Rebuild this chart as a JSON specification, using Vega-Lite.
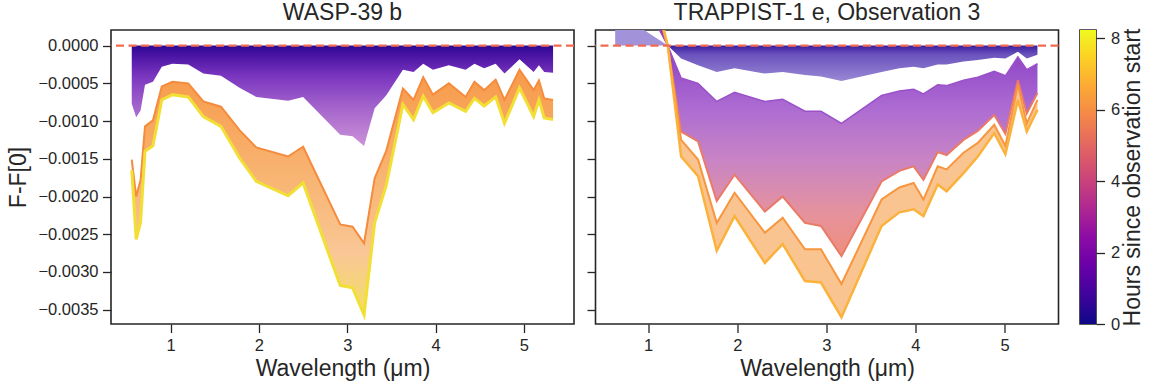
{
  "$schema": "https://vega.github.io/schema/vega-lite/v6.json",
  "background": "white",
  "padding": {"left": 7, "top": 1, "right": 5, "bottom": 5},
  "bounds": "flush",
  "spacing": 21.5,
  "config": {
    "font": "Liberation Sans",
    "view": {"stroke": "#262626", "strokeWidth": 1.6},
    "axis": {"labelFont": "Liberation Sans", "labelFontSize": 16.5, "labelColor": "#262626", "titleFont": "Liberation Sans", "titleFontSize": 23, "titleFontWeight": "normal", "titleColor": "#262626", "tickColor": "#262626", "tickSize": 8.5, "tickWidth": 1.3, "domain": false, "grid": false, "labelPadding": 4.5},
    "title": {"font": "Liberation Sans", "fontSize": 23, "fontWeight": "normal", "color": "#262626", "offset": 5}
  },
  "datasets": {
    "wasp": [
      {"lam": 0.56, "w1": -0.00077, "w2": -0.00151, "w3": -0.00165},
      {"lam": 0.61, "w1": -0.00095, "w2": -0.00200, "w3": -0.00257},
      {"lam": 0.66, "w1": -0.00086, "w2": -0.00178, "w3": -0.00234},
      {"lam": 0.71, "w1": -0.00052, "w2": -0.00107, "w3": -0.00140},
      {"lam": 0.80, "w1": -0.00048, "w2": -0.00099, "w3": -0.00133},
      {"lam": 0.90, "w1": -0.00028, "w2": -0.00054, "w3": -0.00072},
      {"lam": 1.02, "w1": -0.00024, "w2": -0.00048, "w3": -0.00065},
      {"lam": 1.20, "w1": -0.00025, "w2": -0.00050, "w3": -0.00068},
      {"lam": 1.37, "w1": -0.00037, "w2": -0.00074, "w3": -0.00094},
      {"lam": 1.57, "w1": -0.00040, "w2": -0.00081, "w3": -0.00107},
      {"lam": 1.78, "w1": -0.00056, "w2": -0.00112, "w3": -0.00149},
      {"lam": 1.97, "w1": -0.00068, "w2": -0.00135, "w3": -0.00180},
      {"lam": 2.33, "w1": -0.00073, "w2": -0.00147, "w3": -0.00199},
      {"lam": 2.50, "w1": -0.00068, "w2": -0.00134, "w3": -0.00182},
      {"lam": 2.92, "w1": -0.00118, "w2": -0.00237, "w3": -0.00318},
      {"lam": 3.06, "w1": -0.00120, "w2": -0.00240, "w3": -0.00321},
      {"lam": 3.19, "w1": -0.00133, "w2": -0.00262, "w3": -0.00357},
      {"lam": 3.31, "w1": -0.00083, "w2": -0.00176, "w3": -0.00235},
      {"lam": 3.44, "w1": -0.00066, "w2": -0.00140, "w3": -0.00186},
      {"lam": 3.63, "w1": -0.00032, "w2": -0.00057, "w3": -0.00078},
      {"lam": 3.75, "w1": -0.00035, "w2": -0.00072, "w3": -0.00098},
      {"lam": 3.86, "w1": -0.00024, "w2": -0.00042, "w3": -0.00067},
      {"lam": 3.97, "w1": -0.00032, "w2": -0.00065, "w3": -0.00089},
      {"lam": 4.15, "w1": -0.00026, "w2": -0.00050, "w3": -0.00076},
      {"lam": 4.34, "w1": -0.00032, "w2": -0.00068, "w3": -0.00087},
      {"lam": 4.44, "w1": -0.00024, "w2": -0.00048, "w3": -0.00070},
      {"lam": 4.55, "w1": -0.00030, "w2": -0.00059, "w3": -0.00080},
      {"lam": 4.68, "w1": -0.00024, "w2": -0.00045, "w3": -0.00068},
      {"lam": 4.78, "w1": -0.00037, "w2": -0.00072, "w3": -0.00103},
      {"lam": 4.95, "w1": -0.00018, "w2": -0.00032, "w3": -0.00056},
      {"lam": 5.11, "w1": -0.00035, "w2": -0.00059, "w3": -0.00094},
      {"lam": 5.17, "w1": -0.00026, "w2": -0.00046, "w3": -0.00072},
      {"lam": 5.23, "w1": -0.00035, "w2": -0.00070, "w3": -0.00096},
      {"lam": 5.33, "w1": -0.00036, "w2": -0.00072, "w3": -0.00098}
    ],
    "trap": [
      {"lam": 0.63, "t1": 0.0004, "t2": 0.0009, "t3": 0.0012, "t4": 0.0013, "t5": 0.0015},
      {"lam": 0.80, "t1": 0.0004, "t2": 0.0009, "t3": 0.0012, "t4": 0.0013, "t5": 0.0015},
      {"lam": 0.95, "t1": 0.00021, "t2": 0.0006, "t3": 0.0010, "t4": 0.0011, "t5": 0.0013},
      {"lam": 1.22, "t1": 0, "t2": 0, "t3": 0, "t4": 0, "t5": 0},
      {"lam": 1.37, "t1": -0.00017, "t2": -0.00043, "t3": -0.00114, "t4": -0.00125, "t5": -0.00147},
      {"lam": 1.56, "t1": -0.00026, "t2": -0.00050, "t3": -0.00127, "t4": -0.00151, "t5": -0.00173},
      {"lam": 1.77, "t1": -0.00035, "t2": -0.00074, "t3": -0.00206, "t4": -0.00235, "t5": -0.00272},
      {"lam": 1.97, "t1": -0.00030, "t2": -0.00062, "t3": -0.00171, "t4": -0.00195, "t5": -0.00226},
      {"lam": 2.31, "t1": -0.00037, "t2": -0.00074, "t3": -0.00220, "t4": -0.00248, "t5": -0.00288},
      {"lam": 2.51, "t1": -0.00035, "t2": -0.00071, "t3": -0.00200, "t4": -0.00228, "t5": -0.00263},
      {"lam": 2.76, "t1": -0.00039, "t2": -0.00087, "t3": -0.00235, "t4": -0.00270, "t5": -0.00312},
      {"lam": 2.94, "t1": -0.00041, "t2": -0.00087, "t3": -0.00239, "t4": -0.00270, "t5": -0.00314},
      {"lam": 3.17, "t1": -0.00047, "t2": -0.00103, "t3": -0.00279, "t4": -0.00316, "t5": -0.00360},
      {"lam": 3.62, "t1": -0.00035, "t2": -0.00066, "t3": -0.00180, "t4": -0.00204, "t5": -0.00239},
      {"lam": 3.82, "t1": -0.00030, "t2": -0.00060, "t3": -0.00166, "t4": -0.00188, "t5": -0.00221},
      {"lam": 3.98, "t1": -0.00028, "t2": -0.00058, "t3": -0.00160, "t4": -0.00182, "t5": -0.00217},
      {"lam": 4.09, "t1": -0.00030, "t2": -0.00064, "t3": -0.00178, "t4": -0.00204, "t5": -0.00226},
      {"lam": 4.25, "t1": -0.00025, "t2": -0.00052, "t3": -0.00141, "t4": -0.00160, "t5": -0.00184},
      {"lam": 4.35, "t1": -0.00025, "t2": -0.00053, "t3": -0.00145, "t4": -0.00164, "t5": -0.00193},
      {"lam": 4.54, "t1": -0.00021, "t2": -0.00046, "t3": -0.00125, "t4": -0.00142, "t5": -0.00169},
      {"lam": 4.70, "t1": -0.00019, "t2": -0.00042, "t3": -0.00113, "t4": -0.00129, "t5": -0.00147},
      {"lam": 4.885, "t1": -0.00016, "t2": -0.00034, "t3": -0.00092, "t4": -0.00105, "t5": -0.00116},
      {"lam": 5.01, "t1": -0.00017, "t2": -0.00040, "t3": -0.00117, "t4": -0.00133, "t5": -0.00144},
      {"lam": 5.15, "t1": -0.00008, "t2": -0.00015, "t3": -0.00046, "t4": -0.00052, "t5": -0.00072},
      {"lam": 5.25, "t1": -0.00017, "t2": -0.00032, "t3": -0.00090, "t4": -0.00103, "t5": -0.00114},
      {"lam": 5.37, "t1": -0.00012, "t2": -0.00024, "t3": -0.00063, "t4": -0.00072, "t5": -0.00085}
    ]
  },
  "hconcat": [
    {
      "width": 463, "height": 294,
      "title": "WASP-39 b",
      "layer": [
        {
          "data": {"name": "wasp"},
          "mark": {"type": "area", "clip": true, "fill": {"gradient": "linear", "x1": 0, "y1": 0, "x2": 0, "y2": 1, "stops": [{"offset": 0, "color": "#2a0a92"}, {"offset": 0.08, "color": "#4511a0"}, {"offset": 0.3, "color": "#7a35bf"}, {"offset": 0.6, "color": "#a262cb"}, {"offset": 1, "color": "#cc92d8"}]}},
          "encoding": {
            "x": {"field": "lam", "type": "quantitative", "scale": {"domain": [0.325, 5.567], "nice": false, "zero": false}, "axis": {"values": [1, 2, 3, 4, 5], "format": "d", "title": "Wavelength (μm)", "titlePadding": 4}},
            "y": {"field": "w1", "type": "quantitative", "scale": {"domain": [-0.00369, 0.000207], "nice": false, "zero": false}, "axis": {"values": [0, -0.0005, -0.001, -0.0015, -0.002, -0.0025, -0.003, -0.0035], "format": ".4f", "title": "F-F[0]", "titlePadding": 7}},
            "y2": {"datum": 0}
          }
        },
        {
          "data": {"name": "wasp"},
          "mark": {"type": "area", "clip": true, "fill": {"gradient": "linear", "x1": 0, "y1": 0, "x2": 0, "y2": 1, "stops": [{"offset": 0, "color": "#f79a4a"}, {"offset": 0.5, "color": "#f8b878"}, {"offset": 0.75, "color": "#f9c796"}, {"offset": 1, "color": "#f3e060"}]}},
          "encoding": {
            "x": {"field": "lam", "type": "quantitative", "scale": {"domain": [0.325, 5.567], "nice": false, "zero": false}, "axis": {"values": [1, 2, 3, 4, 5], "format": "d", "title": "Wavelength (μm)", "titlePadding": 4}},
            "y": {"field": "w3", "type": "quantitative", "scale": {"domain": [-0.00369, 0.000207], "nice": false, "zero": false}, "axis": {"values": [0, -0.0005, -0.001, -0.0015, -0.002, -0.0025, -0.003, -0.0035], "format": ".4f", "title": "F-F[0]", "titlePadding": 7}},
            "y2": {"field": "w2"}
          }
        },
        {
          "data": {"name": "wasp"},
          "mark": {"type": "line", "clip": true, "color": "#f58b3d", "strokeWidth": 2},
          "encoding": {
            "x": {"field": "lam", "type": "quantitative", "scale": {"domain": [0.325, 5.567], "nice": false, "zero": false}, "axis": {"values": [1, 2, 3, 4, 5], "format": "d", "title": "Wavelength (μm)", "titlePadding": 4}},
            "y": {"field": "w2", "type": "quantitative", "scale": {"domain": [-0.00369, 0.000207], "nice": false, "zero": false}, "axis": {"values": [0, -0.0005, -0.001, -0.0015, -0.002, -0.0025, -0.003, -0.0035], "format": ".4f", "title": "F-F[0]", "titlePadding": 7}}
          }
        },
        {
          "data": {"name": "wasp"},
          "mark": {"type": "line", "clip": true, "color": "#f2df36", "strokeWidth": 3},
          "encoding": {
            "x": {"field": "lam", "type": "quantitative", "scale": {"domain": [0.325, 5.567], "nice": false, "zero": false}, "axis": {"values": [1, 2, 3, 4, 5], "format": "d", "title": "Wavelength (μm)", "titlePadding": 4}},
            "y": {"field": "w3", "type": "quantitative", "scale": {"domain": [-0.00369, 0.000207], "nice": false, "zero": false}, "axis": {"values": [0, -0.0005, -0.001, -0.0015, -0.002, -0.0025, -0.003, -0.0035], "format": ".4f", "title": "F-F[0]", "titlePadding": 7}}
          }
        },
        {
          "data": {"values": [{"ref": 0}]},
          "mark": {"type": "rule", "color": "#f26b50", "strokeDash": [8, 4.5], "strokeWidth": 2.2},
          "encoding": {
            "y": {"field": "ref", "type": "quantitative", "scale": {"domain": [-0.00369, 0.000207], "nice": false, "zero": false}, "axis": {"values": [0, -0.0005, -0.001, -0.0015, -0.002, -0.0025, -0.003, -0.0035], "format": ".4f", "title": "F-F[0]", "titlePadding": 7}}
          }
        }
      ]
    },
    {
      "width": 463, "height": 294,
      "title": "TRAPPIST-1 e, Observation 3",
      "layer": [
        {
          "data": {"name": "trap"},
          "transform": [{"filter": "datum.lam <= 1.22"}],
          "mark": {"type": "area", "clip": true, "color": "#a192da"},
          "encoding": {
            "x": {"field": "lam", "type": "quantitative", "scale": {"domain": [0.409, 5.606], "nice": false, "zero": false}, "axis": {"values": [1, 2, 3, 4, 5], "format": "d", "title": "Wavelength (μm)", "titlePadding": 4}},
            "y": {"field": "t1", "type": "quantitative", "scale": {"domain": [-0.00369, 0.000207], "nice": false, "zero": false}, "axis": {"values": [0, -0.0005, -0.001, -0.0015, -0.002, -0.0025, -0.003, -0.0035], "labels": false, "title": null}},
            "y2": {"datum": 0}
          }
        },
        {
          "data": {"name": "trap"},
          "transform": [{"filter": "datum.lam <= 1.22"}],
          "mark": {"type": "area", "clip": true, "color": "#6f2db5"},
          "encoding": {
            "x": {"field": "lam", "type": "quantitative", "scale": {"domain": [0.409, 5.606], "nice": false, "zero": false}, "axis": {"values": [1, 2, 3, 4, 5], "format": "d", "title": "Wavelength (μm)", "titlePadding": 4}},
            "y": {"field": "t3", "type": "quantitative", "scale": {"domain": [-0.00369, 0.000207], "nice": false, "zero": false}, "axis": {"values": [0, -0.0005, -0.001, -0.0015, -0.002, -0.0025, -0.003, -0.0035], "labels": false, "title": null}},
            "y2": {"field": "t2"}
          }
        },
        {
          "data": {"name": "trap"},
          "transform": [{"filter": "datum.lam >= 1.22"}],
          "mark": {"type": "area", "clip": true, "fill": {"gradient": "linear", "x1": 0, "y1": 0, "x2": 0, "y2": 1, "stops": [{"offset": 0, "color": "#3a1e9e"}, {"offset": 0.25, "color": "#6a52bd"}, {"offset": 1, "color": "#9a88d4"}]}},
          "encoding": {
            "x": {"field": "lam", "type": "quantitative", "scale": {"domain": [0.409, 5.606], "nice": false, "zero": false}, "axis": {"values": [1, 2, 3, 4, 5], "format": "d", "title": "Wavelength (μm)", "titlePadding": 4}},
            "y": {"field": "t1", "type": "quantitative", "scale": {"domain": [-0.00369, 0.000207], "nice": false, "zero": false}, "axis": {"values": [0, -0.0005, -0.001, -0.0015, -0.002, -0.0025, -0.003, -0.0035], "labels": false, "title": null}},
            "y2": {"datum": 0}
          }
        },
        {
          "data": {"name": "trap"},
          "transform": [{"filter": "datum.lam >= 1.22"}],
          "mark": {"type": "area", "clip": true, "fill": {"gradient": "linear", "x1": 0, "y1": 0, "x2": 0, "y2": 1, "stops": [{"offset": 0, "color": "#8a3fc4"}, {"offset": 0.3, "color": "#ad6cd2"}, {"offset": 0.55, "color": "#c985c4"}, {"offset": 0.8, "color": "#e6929c"}, {"offset": 1, "color": "#ef8e7c"}]}},
          "encoding": {
            "x": {"field": "lam", "type": "quantitative", "scale": {"domain": [0.409, 5.606], "nice": false, "zero": false}, "axis": {"values": [1, 2, 3, 4, 5], "format": "d", "title": "Wavelength (μm)", "titlePadding": 4}},
            "y": {"field": "t3", "type": "quantitative", "scale": {"domain": [-0.00369, 0.000207], "nice": false, "zero": false}, "axis": {"values": [0, -0.0005, -0.001, -0.0015, -0.002, -0.0025, -0.003, -0.0035], "labels": false, "title": null}},
            "y2": {"field": "t2"}
          }
        },
        {
          "data": {"name": "trap"},
          "mark": {"type": "area", "clip": true, "color": "#f9c490"},
          "encoding": {
            "x": {"field": "lam", "type": "quantitative", "scale": {"domain": [0.409, 5.606], "nice": false, "zero": false}, "axis": {"values": [1, 2, 3, 4, 5], "format": "d", "title": "Wavelength (μm)", "titlePadding": 4}},
            "y": {"field": "t5", "type": "quantitative", "scale": {"domain": [-0.00369, 0.000207], "nice": false, "zero": false}, "axis": {"values": [0, -0.0005, -0.001, -0.0015, -0.002, -0.0025, -0.003, -0.0035], "labels": false, "title": null}},
            "y2": {"field": "t4"}
          }
        },
        {
          "data": {"name": "trap"},
          "mark": {"type": "line", "clip": true, "color": "#9a50c8", "strokeWidth": 1.5},
          "encoding": {
            "x": {"field": "lam", "type": "quantitative", "scale": {"domain": [0.409, 5.606], "nice": false, "zero": false}, "axis": {"values": [1, 2, 3, 4, 5], "format": "d", "title": "Wavelength (μm)", "titlePadding": 4}},
            "y": {"field": "t2", "type": "quantitative", "scale": {"domain": [-0.00369, 0.000207], "nice": false, "zero": false}, "axis": {"values": [0, -0.0005, -0.001, -0.0015, -0.002, -0.0025, -0.003, -0.0035], "labels": false, "title": null}}
          }
        },
        {
          "data": {"name": "trap"},
          "mark": {"type": "line", "clip": true, "color": "#ea7a68", "strokeWidth": 2},
          "encoding": {
            "x": {"field": "lam", "type": "quantitative", "scale": {"domain": [0.409, 5.606], "nice": false, "zero": false}, "axis": {"values": [1, 2, 3, 4, 5], "format": "d", "title": "Wavelength (μm)", "titlePadding": 4}},
            "y": {"field": "t3", "type": "quantitative", "scale": {"domain": [-0.00369, 0.000207], "nice": false, "zero": false}, "axis": {"values": [0, -0.0005, -0.001, -0.0015, -0.002, -0.0025, -0.003, -0.0035], "labels": false, "title": null}}
          }
        },
        {
          "data": {"name": "trap"},
          "mark": {"type": "line", "clip": true, "color": "#f7963f", "strokeWidth": 2},
          "encoding": {
            "x": {"field": "lam", "type": "quantitative", "scale": {"domain": [0.409, 5.606], "nice": false, "zero": false}, "axis": {"values": [1, 2, 3, 4, 5], "format": "d", "title": "Wavelength (μm)", "titlePadding": 4}},
            "y": {"field": "t4", "type": "quantitative", "scale": {"domain": [-0.00369, 0.000207], "nice": false, "zero": false}, "axis": {"values": [0, -0.0005, -0.001, -0.0015, -0.002, -0.0025, -0.003, -0.0035], "labels": false, "title": null}}
          }
        },
        {
          "data": {"name": "trap"},
          "mark": {"type": "line", "clip": true, "color": "#fbb23c", "strokeWidth": 2.5},
          "encoding": {
            "x": {"field": "lam", "type": "quantitative", "scale": {"domain": [0.409, 5.606], "nice": false, "zero": false}, "axis": {"values": [1, 2, 3, 4, 5], "format": "d", "title": "Wavelength (μm)", "titlePadding": 4}},
            "y": {"field": "t5", "type": "quantitative", "scale": {"domain": [-0.00369, 0.000207], "nice": false, "zero": false}, "axis": {"values": [0, -0.0005, -0.001, -0.0015, -0.002, -0.0025, -0.003, -0.0035], "labels": false, "title": null}}
          }
        },
        {
          "data": {"values": [{"ref": 0}]},
          "mark": {"type": "rule", "color": "#f26b50", "strokeDash": [8, 4.5], "strokeWidth": 2.2},
          "encoding": {
            "y": {"field": "ref", "type": "quantitative", "scale": {"domain": [-0.00369, 0.000207], "nice": false, "zero": false}, "axis": {"values": [0, -0.0005, -0.001, -0.0015, -0.002, -0.0025, -0.003, -0.0035], "labels": false, "title": null}}
          }
        }
      ]
    },
    {
      "width": 16, "height": 294,
      "data": {"values": [{"lo": 0, "hi": 8.23}]},
      "mark": {"type": "rect", "fill": {"gradient": "linear", "x1": 0, "y1": 1, "x2": 0, "y2": 0, "stops": [{"offset": 0, "color": "#0d0887"}, {"offset": 0.1, "color": "#41049d"}, {"offset": 0.2, "color": "#6a00a8"}, {"offset": 0.3, "color": "#8f0da4"}, {"offset": 0.4, "color": "#b12a90"}, {"offset": 0.5, "color": "#cc4778"}, {"offset": 0.6, "color": "#e16462"}, {"offset": 0.7, "color": "#f2844b"}, {"offset": 0.8, "color": "#fca636"}, {"offset": 0.9, "color": "#fcce25"}, {"offset": 1, "color": "#f0f921"}]}},
      "encoding": {
        "y": {"field": "lo", "type": "quantitative", "scale": {"domain": [0, 8.23], "nice": false, "zero": false}, "axis": {"orient": "right", "values": [0, 2, 4, 6, 8], "title": "Hours since observation start", "titleAngle": 270, "titleBaseline": "top", "titlePadding": 2, "labelPadding": 6}},
        "y2": {"field": "hi"}
      }
    }
  ]
}
